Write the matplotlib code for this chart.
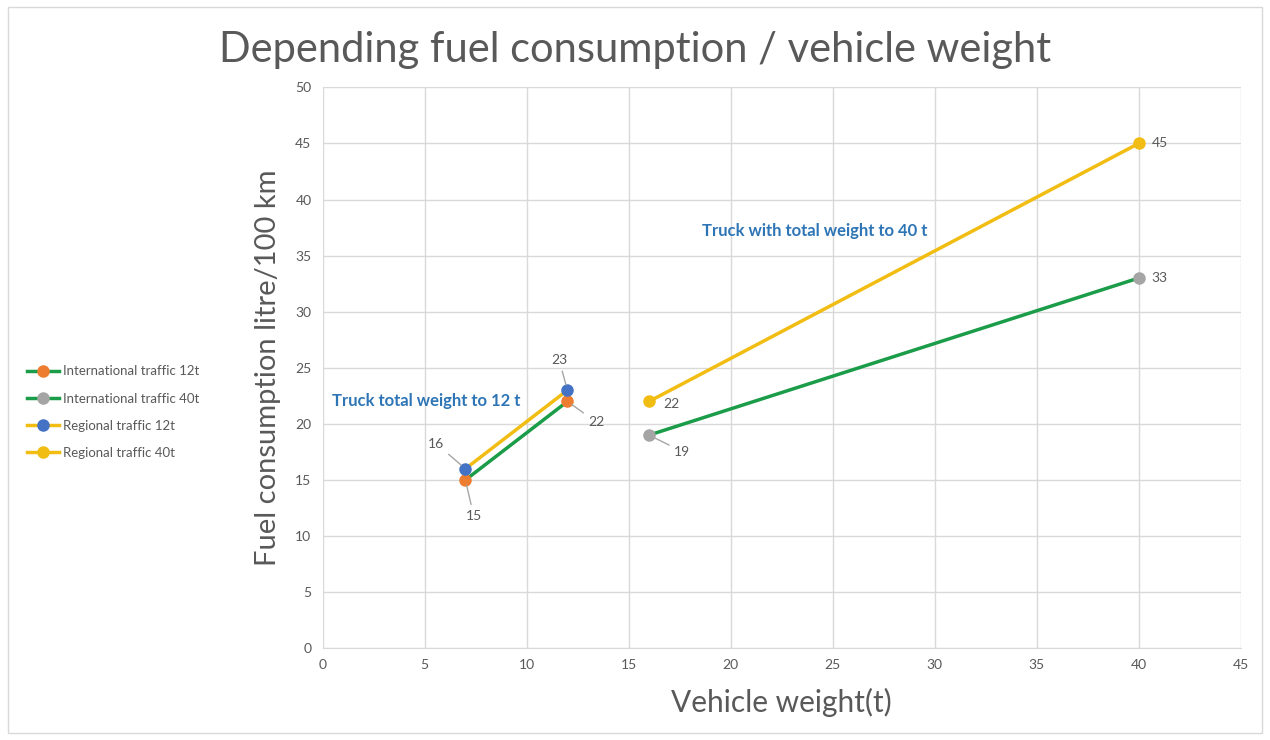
import matplotlib.pyplot as plt
from matplotlib.lines import Line2D

plt.rcParams['font.family'] = ['Lato', 'DejaVu Sans']

# data
intl_12_x = [7, 12]
intl_12_y = [15, 22]
intl_40_x = [16, 40]
intl_40_y = [19, 33]
reg_12_x = [7, 12]
reg_12_y = [16, 23]
reg_40_x = [16, 40]
reg_40_y = [22, 45]

labels = ['International traffic 12t', 'International traffic 40t',
          'Regional traffic 12t', 'Regional traffic 40t']

green = '#1a9c48'
yellow = '#f2bd12'
orange = '#ed7d31'
gray = '#a5a5a5'
blue = '#4472c4'
txt = '#595959'

fig = plt.figure(figsize=(12.7, 7.4), dpi=100)
ax = fig.add_axes([0.254, 0.124, 0.723, 0.758])

ax.plot(intl_12_x, intl_12_y, color=green, lw=2.5, marker='o', ms=8,
        mfc=orange, mec=orange, zorder=3)
ax.plot(intl_40_x, intl_40_y, color=green, lw=2.5, marker='o', ms=8,
        mfc=gray, mec=gray, zorder=3)
ax.plot(reg_12_x, reg_12_y, color=yellow, lw=2.5, marker='o', ms=8,
        mfc=blue, mec=blue, zorder=3)
ax.plot(reg_40_x, reg_40_y, color=yellow, lw=2.5, marker='o', ms=8,
        mfc=yellow, mec=yellow, zorder=3)

ax.set_xlim(0, 45)
ax.set_ylim(0, 50)
ax.set_xticks(range(0, 46, 5))
ax.set_yticks(range(0, 51, 5))
ax.grid(True, color='#d9d9d9', lw=1)
ax.set_axisbelow(True)
for s in ['top', 'right', 'left']:
    ax.spines[s].set_visible(False)
ax.spines['bottom'].set_color('#d9d9d9')
ax.tick_params(length=0, colors=txt, labelsize=10, pad=8)

ax.set_xlabel('Vehicle weight(t)', fontsize=21.5, color=txt, labelpad=12)
ax.set_ylabel('Fuel consumption litre/100 km', fontsize=21, color=txt, labelpad=10)
fig.text(0.5, 0.932, 'Depending fuel consumption / vehicle weight',
         ha='center', va='center', fontsize=30, color=txt)

# data labels with leader lines
def lab(x, y, dx, dy, line=True):
    ap = dict(arrowstyle='-', color='#a6a6a6', lw=1, shrinkA=2, shrinkB=4) if line else None
    ax.annotate(str(y), xy=(x, y), xytext=(dx, dy), textcoords='offset points',
                ha='center', va='center', fontsize=10, color=txt, arrowprops=ap)

lab(intl_12_x[0], intl_12_y[0], 6, -26)
lab(intl_12_x[1], intl_12_y[1], 21, -15)
lab(reg_12_x[0], reg_12_y[0], -21, 18)
lab(reg_12_x[1], reg_12_y[1], -6, 22)
lab(intl_40_x[0], intl_40_y[0], 24, -12)
lab(intl_40_x[1], intl_40_y[1], 15, 0, line=False)
lab(reg_40_x[0], reg_40_y[0], 16, -2, line=False)
lab(reg_40_x[1], reg_40_y[1], 15, 0, line=False)

ax.text(0.45, 22.0, 'Truck total weight to 12 t', fontsize=12,
        fontweight='bold', color='#2e75b6', va='center')
ax.text(18.6, 37.2, 'Truck with total weight to 40 t', fontsize=12,
        fontweight='bold', color='#2e75b6', va='center')

handles = [
    Line2D([], [], color=green, lw=2.5, marker='o', ms=8, mfc=orange, mec=orange),
    Line2D([], [], color=green, lw=2.5, marker='o', ms=8, mfc=gray, mec=gray),
    Line2D([], [], color=yellow, lw=2.5, marker='o', ms=8, mfc=blue, mec=blue),
    Line2D([], [], color=yellow, lw=2.5, marker='o', ms=8, mfc=yellow, mec=yellow),
]
fig.legend(handles, labels, loc='center left', bbox_to_anchor=(0.012, 0.443),
           frameon=False, fontsize=9.5, labelcolor=txt, handlelength=2.4,
           handletextpad=0.3, labelspacing=1.15)

fig.patches.append(plt.Rectangle((0.006, 0.01), 0.988, 0.98, transform=fig.transFigure,
                                 fill=False, edgecolor='#d9d9d9', lw=1))

fig.savefig('out.png')
